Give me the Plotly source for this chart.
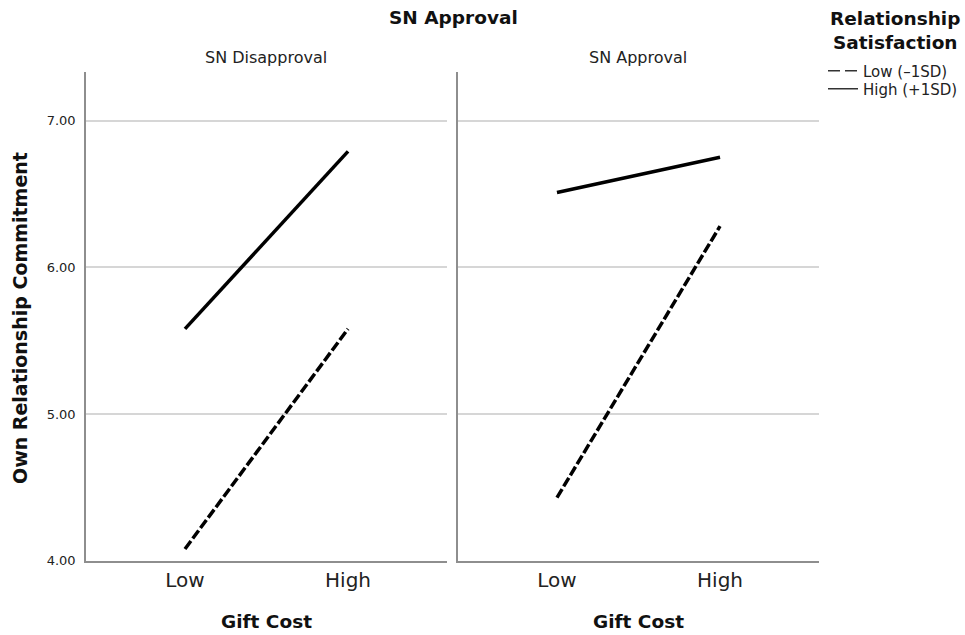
import plotly.graph_objects as go

# Simple-slopes data: predicted commitment by gift cost, split by subjective-norm condition
gift_cost = ["Low", "High"]
panels = ["SN Disapproval", "SN Approval"]
low_sat_disapproval = [4.08, 5.58]
high_sat_disapproval = [5.58, 6.79]
low_sat_approval = [4.43, 6.28]
high_sat_approval = [6.51, 6.75]
y_ticks = [4.0, 5.0, 6.0, 7.0]
y_ticktext = ["4.00", "5.00", "6.00", "7.00"]
legend_names = ["Low (\u20131SD)", "High (+1SD)"]

FONT = "DejaVu Sans"
W, H = 965, 635
DASH = "10px,3px"

x_pos = list(range(len(gift_cost)))

fig = go.Figure()

series = [
    ("x", "y", low_sat_disapproval, legend_names[0], DASH),
    ("x", "y", high_sat_disapproval, legend_names[1], "solid"),
    ("x2", "y2", low_sat_approval, legend_names[0], DASH),
    ("x2", "y2", high_sat_approval, legend_names[1], "solid"),
]
for xa, ya, vals, name, dash in series:
    fig.add_trace(go.Scatter(
        x=x_pos, y=vals, xaxis=xa, yaxis=ya, mode="lines", name=name,
        showlegend=False, legendgroup=name,
        line=dict(color="black", width=3.5, dash=dash),
    ))

# Thin-line legend keys, one small legend per entry
for name, dash, leg in [(legend_names[0], "12px,5px", "legend"),
                        (legend_names[1], "solid", "legend2")]:
    fig.add_trace(go.Scatter(
        x=[None], y=[None], mode="lines", name=name, legend=leg,
        showlegend=True, legendgroup=name,
        line=dict(color="#333", width=1.5, dash=dash),
    ))

ydom = [(635 - 560.7) / H, (635 - 72) / H]
xdom1 = [86 / W, 447 / W]
xdom2 = [458 / W, 819 / W]
xrange_ = [-0.607, 1.607]
yrange_ = [4.0, 7.331]

axis_color = "#8e8e8e"
grid_color = "#d6d6d6"

common_x = dict(
    range=xrange_, tickvals=x_pos, ticktext=gift_cost,
    showline=True, linecolor=axis_color, linewidth=1.5,
    showgrid=False, zeroline=False, ticks="", automargin=False,
    tickfont=dict(family=FONT, size=20, color="#222"),
    ticklabelstandoff=1,
)
common_y = dict(
    range=yrange_, tickvals=y_ticks, ticktext=y_ticktext,
    showline=True, linecolor=axis_color, linewidth=1.5,
    showgrid=True, gridcolor=grid_color, gridwidth=1.5,
    zeroline=False, ticks="", automargin=False,
)

legend_common = dict(
    xanchor="left", yanchor="middle",
    font=dict(family=FONT, size=15, color="#222"),
    bgcolor="rgba(0,0,0,0)", itemwidth=30, itemclick=False,
)

fig.update_layout(
    width=W, height=H,
    margin=dict(l=0, r=0, t=0, b=0, autoexpand=False),
    paper_bgcolor="white", plot_bgcolor="white",
    xaxis=dict(domain=xdom1, anchor="y", **common_x),
    xaxis2=dict(domain=xdom2, anchor="y2", **common_x),
    yaxis=dict(domain=ydom, anchor="x",
               tickfont=dict(family=FONT, size=13, color="#222"),
               ticklabelstandoff=6, **common_y),
    yaxis2=dict(domain=ydom, anchor="x2", showticklabels=False, **common_y),
    legend=dict(x=823 / W, y=1 - 71 / H, **legend_common),
    legend2=dict(x=823 / W, y=1 - 89 / H, **legend_common),
)

annotations = [
    dict(text="<b>SN Approval</b>", x=453 / W, y=1 - 18 / H,
         font=dict(family=FONT, size=18.5, color="#111")),
    dict(text=panels[0], x=266 / W, y=1 - 57 / H,
         font=dict(family=FONT, size=16, color="#222")),
    dict(text=panels[1], x=638 / W, y=1 - 57 / H,
         font=dict(family=FONT, size=16, color="#222")),
    dict(text="<b>Gift Cost</b>", x=266 / W, y=1 - 621 / H,
         font=dict(family=FONT, size=18.5, color="#111")),
    dict(text="<b>Gift Cost</b>", x=638 / W, y=1 - 621 / H,
         font=dict(family=FONT, size=18.5, color="#111")),
    dict(text="<b>Own Relationship Commitment</b>", x=20 / W, y=1 - 318 / H,
         textangle=-90, font=dict(family=FONT, size=19, color="#111")),
    dict(text="<b>Relationship<br>Satisfaction</b>", x=895 / W, y=1 - 31 / H,
         align="center", font=dict(family=FONT, size=18.5, color="#111")),
]
for a in annotations:
    a.update(xref="paper", yref="paper", showarrow=False,
             xanchor="center", yanchor="middle")
fig.update_layout(annotations=annotations)

fig.write_html("out.html")
